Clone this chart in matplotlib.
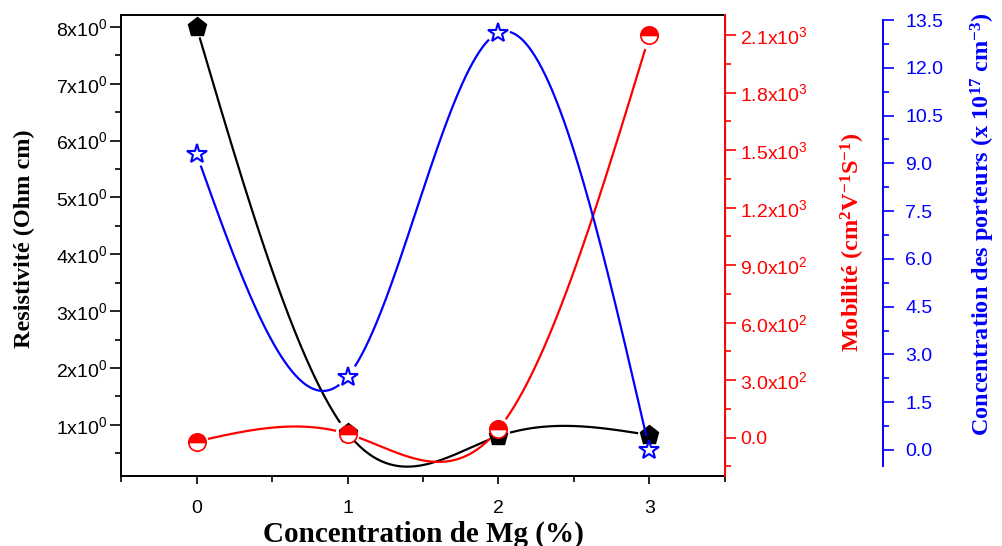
import numpy as np
import matplotlib
matplotlib.use("Agg")
import matplotlib.pyplot as plt
from matplotlib.ticker import MultipleLocator, FixedLocator

plt.rcParams['font.family'] = ['Liberation Sans', 'DejaVu Sans']
plt.rcParams['mathtext.default'] = 'regular'

# data
mg = [0, 1, 2, 3]
resistivity = [8.0, 0.86, 0.80, 0.82]          # Ohm cm
mobility = [-20, 20, 45, 2100]                 # cm2 V-1 S-1
carriers = [9.3, 2.3, 13.1, 0.0]               # x 1e17 cm-3

res_ticks = [1, 2, 3, 4, 5, 6, 7, 8]
res_labels = [f"{v}x10$^{{0}}$" for v in res_ticks]
mob_ticks = [0, 300, 600, 900, 1200, 1500, 1800, 2100]
mob_labels = ["0.0", "3.0x10$^{2}$", "6.0x10$^{2}$", "9.0x10$^{2}$",
              "1.2x10$^{3}$", "1.5x10$^{3}$", "1.8x10$^{3}$", "2.1x10$^{3}$"]
car_ticks = [0.0, 1.5, 3.0, 4.5, 6.0, 7.5, 9.0, 10.5, 12.0, 13.5]


def natural_spline(x, y, n=400):
    """Smooth connecting line through the points (Origin-style spline)."""
    x = np.asarray(x, float)
    y = np.asarray(y, float)
    k = len(x)
    h = np.diff(x)
    A = np.zeros((k, k))
    b = np.zeros(k)
    A[0, 0] = A[-1, -1] = 1
    for i in range(1, k - 1):
        A[i, i - 1] = h[i - 1]
        A[i, i] = 2 * (h[i - 1] + h[i])
        A[i, i + 1] = h[i]
        b[i] = 6 * ((y[i + 1] - y[i]) / h[i] - (y[i] - y[i - 1]) / h[i - 1])
    m = np.linalg.solve(A, b)
    xs = np.linspace(x[0], x[-1], n)
    idx = np.clip(np.searchsorted(x, xs) - 1, 0, k - 2)
    x0, x1 = x[idx], x[idx + 1]
    hh = x1 - x0
    t0, t1 = x1 - xs, xs - x0
    ys = (m[idx] * t0**3 + m[idx + 1] * t1**3) / (6 * hh) \
        + (y[idx] / hh - m[idx] * hh / 6) * t0 + (y[idx + 1] / hh - m[idx + 1] * hh / 6) * t1
    return xs, ys


def spline_with_gaps(a, x, y, gap=12):
    """Spline line that stops short of each marker, like Origin does."""
    xs, ys = natural_spline(x, y)
    pts = a.transData.transform(np.column_stack([xs, ys]))
    marks = a.transData.transform(np.column_stack([x, y]))
    d = np.min(np.hypot(pts[:, None, 0] - marks[None, :, 0],
                        pts[:, None, 1] - marks[None, :, 1]), axis=1)
    ys = ys.copy()
    ys[d < gap] = np.nan
    return xs, ys


fig = plt.figure(figsize=(10.02, 5.46), dpi=100)
ax = fig.add_axes([0.1208, 0.1282, 0.6027, 0.8443])
ax2 = ax.twinx()
ax3 = ax.twinx()

label_font = dict(family='Liberation Serif', weight='bold')
tick_size = 14

ax.set_xlim(-0.5, 3.5)
ax.set_ylim(0.1, 8.21)
ax2.set_ylim(-200, 2205)
ax3.set_ylim(-0.82, 13.66)

# resistivity (left)
xs, ys = spline_with_gaps(ax, mg, resistivity)
ax.plot(xs, ys, color='black', lw=1.6, zorder=2)
ax.plot(mg, resistivity, ls='none', marker='p', ms=14, color='black', zorder=3)
ax.yaxis.set_major_locator(FixedLocator(res_ticks))
ax.set_yticklabels(res_labels)
ax.yaxis.set_minor_locator(MultipleLocator(0.5))
ax.xaxis.set_major_locator(MultipleLocator(1))
ax.xaxis.set_minor_locator(MultipleLocator(0.5))
ax.tick_params(axis='y', which='major', length=8, width=1.2, labelsize=tick_size, pad=2)
ax.tick_params(axis='y', which='minor', length=4, width=1.2)
ax.tick_params(axis='x', which='major', length=6, width=1.2, labelsize=tick_size, pad=11)
ax.tick_params(axis='x', which='minor', length=4, width=1.2)
for s in ['left', 'bottom', 'top']:
    ax.spines[s].set_linewidth(1.4)
ax.set_ylabel("Resistivité (Ohm cm)", fontsize=17.5, labelpad=15, **label_font)
ax.yaxis.label.set_y(0.514)
ax.set_xlabel("Concentration de Mg (%)", fontsize=21, va='center', **label_font)
ax.xaxis.set_label_coords(0.5, (546 - 531 - 73) / 461.0)

# mobility (right, red)
xs, ys = spline_with_gaps(ax2, mg, mobility)
ax2.plot(xs, ys, color='red', lw=1.6, zorder=2)
ax2.plot(mg, mobility, ls='none', marker='o', ms=12.5, color='red', fillstyle='top',
         markerfacecoloralt='white', markeredgecolor='red', markeredgewidth=1.2, zorder=4)
ax2.yaxis.set_major_locator(FixedLocator(mob_ticks))
ax2.set_yticklabels(mob_labels)
ax2.yaxis.set_minor_locator(MultipleLocator(150))
ax2.tick_params(axis='y', which='major', length=8, width=1.2, colors='red', labelsize=tick_size, pad=3)
ax2.tick_params(axis='y', which='minor', length=4, width=1.2, colors='red')
ax2.spines['right'].set_color('red')
ax2.spines['right'].set_linewidth(1.4)
ax2.set_ylabel("Mobilité (cm$^{2}$V$^{-1}$S$^{-1}$)", fontsize=17.5, color='red', labelpad=22, **label_font)
ax2.yaxis.label.set_y(0.508)

# carrier concentration (far right, blue)
xs, ys = spline_with_gaps(ax3, mg, carriers)
ax3.plot(xs, ys, color='blue', lw=1.6, zorder=2)
ax3.plot(mg, carriers, ls='none', marker='*', ms=15, color='blue', markerfacecolor='white',
         markeredgecolor='blue', markeredgewidth=1.5, zorder=3)
ax3.spines['right'].set_position(('axes', 1.262))
ax3.spines['right'].set_bounds(-0.5, 13.5)
ax3.spines['right'].set_color('blue')
ax3.spines['right'].set_linewidth(1.4)
ax3.yaxis.set_major_locator(FixedLocator(car_ticks))
ax3.set_yticklabels([f"{v:.1f}" for v in car_ticks])
ax3.yaxis.set_minor_locator(FixedLocator(np.arange(0.75, 13.5, 1.5)))
ax3.tick_params(axis='y', which='major', length=8, width=1.2, colors='blue', labelsize=tick_size, pad=8)
ax3.tick_params(axis='y', which='minor', length=4, width=1.2, colors='blue')
ax3.set_ylabel("Concentration des porteurs (x 10$^{17}$ cm$^{-3}$)", fontsize=17.5, color='blue',
               labelpad=18, **label_font)
ax3.yaxis.label.set_y(0.547)
for a in (ax2, ax3):
    for s in ['left', 'top', 'bottom']:
        a.spines[s].set_visible(False)

fig.savefig("out.png", dpi=100)
